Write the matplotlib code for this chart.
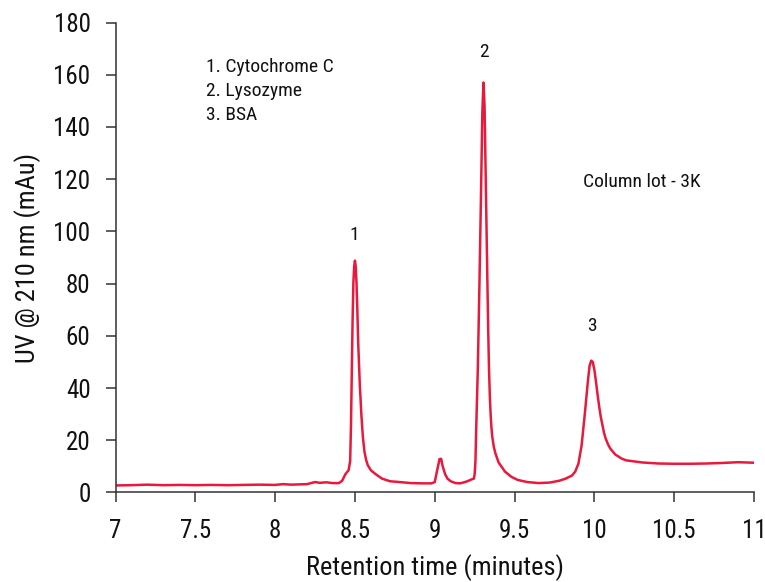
import matplotlib
matplotlib.use("Agg")
import matplotlib.pyplot as plt
from matplotlib import font_manager

# Retention time (minutes) and UV absorbance (mAu)
time_min = [7.00, 7.10, 7.20, 7.30, 7.40, 7.50, 7.60, 7.70, 7.80, 7.90, 8.00, 8.05, 8.10,
            8.15, 8.20, 8.25, 8.28, 8.32, 8.36, 8.40, 8.42, 8.44, 8.46, 8.47, 8.475, 8.48,
            8.485, 8.49, 8.495, 8.50, 8.505, 8.51, 8.515, 8.52, 8.53, 8.54, 8.55, 8.56, 8.57,
            8.58, 8.60, 8.63, 8.67, 8.72, 8.78, 8.85, 8.92, 8.98, 9.00, 9.015, 9.03, 9.04,
            9.05, 9.065, 9.08, 9.10, 9.13, 9.16, 9.20, 9.23, 9.245, 9.25, 9.255, 9.26, 9.27,
            9.28, 9.29, 9.298, 9.305, 9.312, 9.32, 9.33, 9.335, 9.34, 9.345, 9.35, 9.355,
            9.36, 9.37, 9.38, 9.40, 9.44, 9.48, 9.52, 9.58, 9.65, 9.72, 9.78, 9.82, 9.86,
            9.88, 9.90, 9.92, 9.94, 9.96, 9.97, 9.98, 9.99, 10.00, 10.01, 10.02, 10.03,
            10.04, 10.05, 10.06, 10.07, 10.085, 10.10, 10.13, 10.17, 10.20,
            10.30, 10.40, 10.50, 10.60, 10.70, 10.80, 10.90, 10.95, 11.00]
uv_mau = [2.7, 2.8, 3.0, 2.8, 2.9, 2.8, 2.9, 2.8, 2.9, 3.0, 2.9, 3.2, 3.0,
          3.1, 3.2, 4.0, 3.7, 3.9, 3.6, 3.6, 4.5, 7.0, 8.5, 12.0, 25.0, 45.0,
          65.0, 80.0, 86.5, 88.8, 86.5, 80.0, 70.0, 58.0, 42.0, 30.0, 21.0, 15.5, 12.5,
          10.5, 8.5, 7.0, 5.3, 4.3, 4.0, 3.6, 3.5, 3.5, 4.0, 8.5, 12.8, 12.9,
          10.0, 7.0, 5.3, 4.3, 3.6, 3.5, 4.2, 5.0, 5.3, 7.0, 12.0, 25.0, 48.0,
          80.0, 115.0, 145.0, 157.0, 148.0, 118.0, 80.0, 62.0, 47.0, 37.0, 30.0, 25.0,
          21.5, 17.5, 15.0, 11.5, 8.0, 6.0, 4.8, 4.0, 3.6, 3.8, 4.5, 5.3, 6.5,
          8.0, 11.0, 18.0, 30.0, 43.0, 48.5, 50.5, 50.0, 47.0, 42.5, 37.5, 33.0,
          29.0, 26.0, 23.0, 20.8, 18.5, 16.8, 14.6, 13.0, 12.3,
          11.5, 11.1, 11.0, 11.0, 11.1, 11.3, 11.6, 11.5, 11.4]

x_ticks = [7, 7.5, 8, 8.5, 9, 9.5, 10, 10.5, 11]
x_tick_labels = ["7", "7.5", "8", "8.5", "9", "9.5", "10", "10.5", "11"]
y_ticks = [0, 20, 40, 60, 80, 100, 120, 140, 160, 180]

peak_labels = ["1", "2", "3"]
peak_label_x = [8.494, 9.308, 9.985]
peak_label_y = [98.7, 168.9, 63.8]
legend_lines = ["1. Cytochrome C", "2. Lysozyme", "3. BSA"]

available = {f.name for f in font_manager.fontManager.ttflist}
fam = [f for f in ["Liberation Sans Narrow", "Roboto Condensed", "Liberation Sans"] if f in available] + ["DejaVu Sans"]
plt.rcParams['font.family'] = fam

fig = plt.figure(figsize=(7.65, 5.82), dpi=100)
ax = fig.add_axes([0.151, 0.1538, 0.8346, 0.8075])
ax.plot(time_min, uv_mau, color="#e8193c", lw=1.8, solid_joinstyle="round")

ax.set_xlim(7, 11)
ax.set_ylim(0, 180)
ax.set_xticks(x_ticks)
ax.set_xticklabels(x_tick_labels)
ax.set_yticks(y_ticks)
for s in ["top", "right"]:
    ax.spines[s].set_visible(False)
for s in ["left", "bottom"]:
    ax.spines[s].set_color("#333333")
    ax.spines[s].set_linewidth(1.1)
ax.tick_params(axis="both", direction="out", length=7, width=1.1, color="#333333",
               labelsize=18, labelcolor="#111111")
ax.tick_params(axis="y", pad=11)
ax.tick_params(axis="x", pad=12)

ax.set_xlabel("Retention time (minutes)", fontsize=19, color="#111111", labelpad=8)
ax.set_ylabel("UV @ 210 nm (mAu)", fontsize=19, color="#111111", labelpad=9)

for lab, x, y in zip(peak_labels, peak_label_x, peak_label_y):
    ax.text(x, y, lab, ha="center", va="center", fontsize=14, color="#111111")

for i, line in enumerate(legend_lines):
    ax.text(7.57, 162.8 - 9.2 * i, line, ha="left", va="center", fontsize=14, color="#111111")

ax.text(9.927, 119, "Column lot - 3K", ha="left", va="center", fontsize=14, color="#111111")

fig.savefig("out.png", dpi=100)
